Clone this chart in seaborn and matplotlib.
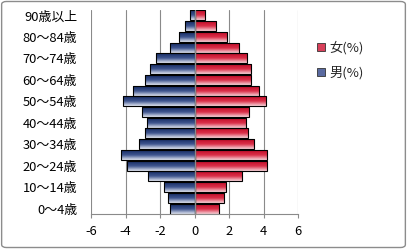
import numpy as np
import pandas as pd
import matplotlib
matplotlib.use("Agg")
import matplotlib.pyplot as plt
import seaborn as sns
from matplotlib.colors import LinearSegmentedColormap
from matplotlib.patches import Patch, FancyBboxPatch

# ---- data (top to bottom) ----
ages = ["90歳以上", "85～89歳", "80～84歳", "75～79歳", "70～74歳", "65～69歳",
        "60～64歳", "55～59歳", "50～54歳", "45～49歳", "40～44歳", "35～39歳",
        "30～34歳", "25～29歳", "20～24歳", "15～19歳", "10～14歳", "5～9歳", "0～4歳"]
male_pct = [0.29, 0.57, 0.91, 1.43, 2.23, 2.57, 2.86, 3.54, 4.13, 3.07,
            2.76, 2.86, 3.20, 4.25, 3.94, 2.69, 1.77, 1.54, 1.43]
female_pct = [0.63, 1.26, 1.90, 2.59, 3.03, 3.26, 3.26, 3.71, 4.17, 3.18,
              2.97, 3.09, 3.43, 4.21, 4.21, 2.76, 1.85, 1.71, 1.43]
x_ticks = [-6, -4, -2, 0, 2, 4, 6]
series_names = ["女(%)", "男(%)"]

sns.set_theme(style="white")
plt.rcParams["font.family"] = ["Noto Sans CJK JP", "DejaVu Sans"]

fig = plt.figure(figsize=(4.07, 2.49), dpi=100)
ax = fig.add_axes([0.2236, 0.1406, 0.5086, 0.8193])

df = pd.DataFrame({
    "age": ages + ages,
    "value": [-m for m in male_pct] + female_pct,
    "sex": ["男"] * len(ages) + ["女"] * len(ages),
})

sns.barplot(data=df, y="age", x="value", hue="sex", order=ages, dodge=False,
            width=0.93, palette={"男": "#5a6aa0", "女": "#d8405a"},
            edgecolor="black", linewidth=0.8, legend=False, ax=ax, zorder=3)

cm_blue = LinearSegmentedColormap.from_list("b", ["#152b63", "#3f558f", "#e2e6f1"])
cm_red = LinearSegmentedColormap.from_list("r", ["#c00c28", "#da3049", "#f8d4da"])
grad = np.linspace(0, 1, 64).reshape(-1, 1)

for p in list(ax.patches):
    bb = p.get_bbox()
    x0, x1 = min(bb.x0, bb.x1), max(bb.x0, bb.x1)
    y0, y1 = min(bb.y0, bb.y1), max(bb.y0, bb.y1)
    if x1 - x0 <= 0:
        continue
    cmap = cm_blue if x0 < 0 else cm_red
    im = ax.imshow(grad, cmap=cmap, extent=(x0, x1, y1, y0), origin="upper",
                   aspect="auto", zorder=2.9, interpolation="bilinear")
    im.set_clip_path(p)
    p.set_facecolor("none")

ax.set_xlim(-6, 6)
ax.set_ylim(len(ages) - 0.5, -0.5)
ax.set_xticks(x_ticks)
ax.set_xticklabels([str(t) for t in x_ticks])
ax.set_yticks(range(len(ages)))
ax.set_yticklabels([a if i % 2 == 0 else "" for i, a in enumerate(ages)])
ax.set_xlabel("")
ax.set_ylabel("")

ax.xaxis.grid(True, color="#8a8a8a", lw=0.8)
ax.yaxis.grid(False)
ax.set_axisbelow(True)
ax.axvline(0, color="#8a8a8a", lw=1.0, zorder=4)

for s in ["top", "right", "left"]:
    ax.spines[s].set_visible(False)
ax.spines["bottom"].set_color("#8a8a8a")
ax.spines["bottom"].set_linewidth(0.8)

ax.tick_params(axis="x", length=3, width=0.8, color="#8a8a8a", direction="out",
               pad=5, labelsize=9.3, labelcolor="black")
ax.tick_params(axis="y", length=0, pad=10, labelsize=9.3, labelcolor="black")
ax.xaxis.set_ticks_position("bottom")

handles = [Patch(facecolor="#d8405a", edgecolor="#333333", linewidth=0.6),
           Patch(facecolor="#5a6aa0", edgecolor="#333333", linewidth=0.6)]
fig.legend(handles, series_names, loc="upper left",
           bbox_to_anchor=(312 / 407, 1 - 36 / 249), frameon=False,
           handlelength=0.55, handleheight=0.55, handletextpad=0.35,
           labelspacing=0.85, fontsize=9.5, borderaxespad=0)

fig.patches.append(FancyBboxPatch((0.004, 0.006), 0.992, 0.988,
                                  boxstyle="round,pad=0,rounding_size=0.012",
                                  transform=fig.transFigure, fill=False,
                                  ec="#8c8c8c", lw=1.0))

fig.savefig("out.png", dpi=100)
